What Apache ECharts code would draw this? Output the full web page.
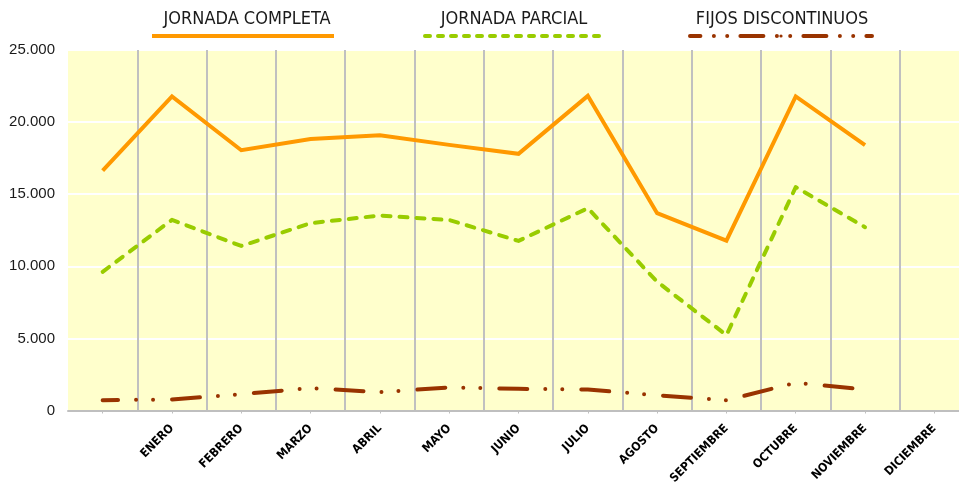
<!DOCTYPE html>
<html>
<head>
<meta charset="utf-8">
<script src="https://cdn.jsdelivr.net/npm/echarts@6/dist/echarts.min.js"></script>
<style>
html,body{margin:0;padding:0;background:#fff;}
#chart{width:959px;height:485px;}
</style>
</head>
<body>
<div id="chart"></div>
<script>
const categories = ['', 'ENERO', 'FEBRERO', 'MARZO', 'ABRIL', 'MAYO', 'JUNIO', 'JULIO', 'AGOSTO', 'SEPTIEMBRE', 'OCTUBRE', 'NOVIEMBRE', 'DICIEMBRE'];
const seriesNames = ['JORNADA COMPLETA', 'JORNADA PARCIAL', 'FIJOS DISCONTINUOS'];
const jornadaCompleta = [16640, 21780, 18050, 18820, 19080, 18420, 17800, 21820, 13680, 11780, 21780, 18400, null];
const jornadaParcial = [9620, 13220, 11410, 12990, 13520, 13210, 11760, 14030, 8930, 5230, 15490, 12710, null];
const fijosDiscontinuos = [715, 765, 1130, 1550, 1270, 1600, 1500, 1460, 1060, 715, 1920, 1460, null];
const yTicks = [0, 5000, 10000, 15000, 20000, 25000];

const colors = ['#FF9900', '#99CC00', '#993300'];
const titleFont = "'DejaVu Sans Condensed', 'Liberation Sans', sans-serif";

function fmt(v) {
  return String(v).replace(/\B(?=(\d{3})+(?!\d))/g, '.');
}

const chart = echarts.init(document.getElementById('chart'), null, {renderer: 'canvas'});

const legendDefs = [
  {left: 150, dash: 'solid'},
  {left: 423, dash: [5, 8]},
  {left: 688, dash: [23, 13.5, 0, 13.3, 0, 13.2]}
];
const legendCenters = [247, 514, 782];

const option = {
  animation: false,
  backgroundColor: '#ffffff',
  legend: legendDefs.map((d, i) => ({
    data: [seriesNames[i]],
    left: d.left,
    top: 34,
    padding: 0,
    itemWidth: 182,
    itemHeight: 4,
    itemGap: 0,
    selectedMode: false,
    formatter: () => '',
    textStyle: {fontSize: 1},
    lineStyle: {color: colors[i], width: 4, type: d.dash, cap: d.dash === 'solid' ? 'butt' : 'round'}
  })),
  graphic: seriesNames.map((n, i) => ({
    type: 'text',
    x: legendCenters[i],
    y: 19,
    style: {
      text: n,
      textAlign: 'center',
      textVerticalAlign: 'middle',
      fill: '#1a1a1a',
      font: "18px " + titleFont
    }
  })),
  grid: {
    left: 68,
    top: 50,
    width: 901,
    bottom: 74.5,
    outerBoundsMode: 'none',
    show: true,
    backgroundColor: '#FFFFCC',
    borderWidth: 0,
    containLabel: false
  },
  xAxis: {
    type: 'category',
    data: categories,
    boundaryGap: true,
    axisLine: {show: true, lineStyle: {color: '#BFBFBF', width: 2}},
    axisTick: {show: true, alignWithLabel: true, length: 3, lineStyle: {color: '#BFBFBF', width: 1}},
    splitLine: {show: true, showMinLine: false, lineStyle: {color: '#C0C0C0', width: 2}},
    axisLabel: {
      interval: 0,
      rotate: 45,
      margin: 16,
      color: '#000',
      fontWeight: 'bold',
      fontSize: 12,
      fontFamily: "'DejaVu Sans Condensed', 'Liberation Sans', sans-serif"
    }
  },
  yAxis: {
    type: 'value',
    min: yTicks[0],
    max: yTicks[yTicks.length - 1],
    interval: 5000,
    axisLine: {show: false},
    axisTick: {show: false},
    splitLine: {show: true, lineStyle: {color: '#FFFFFF', width: 2}},
    axisLabel: {
      margin: 13,
      color: '#1a1a1a',
      fontSize: 15,
      fontFamily: "'Liberation Sans', Arial, sans-serif",
      formatter: fmt
    }
  },
  series: [
    {
      name: seriesNames[0], type: 'line', data: jornadaCompleta,
      symbol: 'none', color: colors[0],
      lineStyle: {color: colors[0], width: 4, join: 'miter'},
      z: 4
    },
    {
      name: seriesNames[1], type: 'line', data: jornadaParcial,
      symbol: 'none', color: colors[1],
      lineStyle: {color: colors[1], width: 4, type: [8, 9], cap: 'round', join: 'round'},
      z: 3
    },
    {
      name: seriesNames[2], type: 'line', data: fijosDiscontinuos,
      symbol: 'none', color: colors[2],
      lineStyle: {color: colors[2], width: 4, type: [28, 18, 0, 17, 0, 19], dashOffset: 12.6, cap: 'round', join: 'round'},
      z: 2
    }
  ]
};
chart.setOption(option);
</script>
</body>
</html>
